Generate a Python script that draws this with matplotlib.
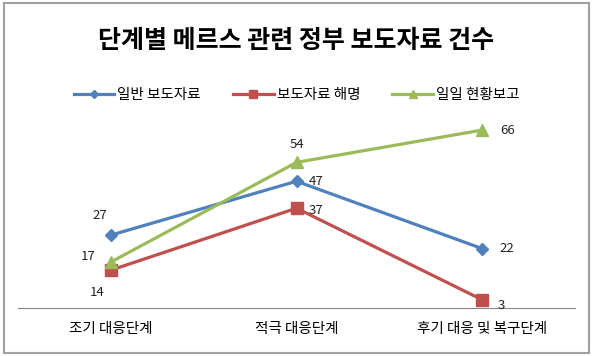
import matplotlib.pyplot as plt
from matplotlib.patches import Rectangle

plt.rcParams['font.family'] = ['Noto Sans CJK KR', 'DejaVu Sans']

# data
stages = ["조기 대응단계", "적극 대응단계", "후기 대응 및 복구단계"]
general = [27, 47, 22]
clarify = [14, 37, 3]
daily = [17, 54, 66]
series_names = ["일반 보도자료", "보도자료 해명", "일일 현황보고"]

colors = ["#4F81BD", "#C0504D", "#9BBB59"]
markers = ["D", "s", "^"]
msizes = [6, 8, 8]
# label offsets (points) per series / per point
offsets = [
    [(-8, 14), (14, 0), (18, 0)],
    [(-10, -16), (14, -2), (14, -4)],
    [(-16, 4), (0, 13), (18, 0)],
]

fig = plt.figure(figsize=(5.93, 3.56), dpi=100)
fig.patches.append(Rectangle((0.006, 0.008), 0.988, 0.984, transform=fig.transFigure,
                             fill=False, edgecolor="#A0A0A0", linewidth=1.5))
ax = fig.add_axes([0.03, 0.135, 0.94, 0.53])

x = range(len(stages))
for vals, name, c, m, ms, offs in zip([general, clarify, daily], series_names,
                                       colors, markers, msizes, offsets):
    ax.plot(x, vals, color=c, marker=m, markersize=ms, linewidth=2.3, label=name)
    for xi, v, (dx, dy) in zip(x, vals, offs):
        ax.annotate(str(v), (xi, v), xytext=(dx, dy), textcoords="offset points",
                    ha="center", va="center", fontsize=9.5, color="#222222")

ax.set_xlim(-0.5, 2.5)
ax.set_ylim(0, 70)
ax.set_xticks(list(x))
ax.set_xticklabels(stages, fontsize=10.5)
ax.tick_params(axis="x", length=0, pad=10)
ax.set_yticks([])
for s in ["top", "left", "right"]:
    ax.spines[s].set_visible(False)
ax.spines["bottom"].set_color("#888888")

fig.text(0.5, 0.885, "단계별 메르스 관련 정부 보도자료 건수", ha="center", va="center",
         fontsize=18, fontweight="bold")
fig.legend(loc="center", bbox_to_anchor=(0.5, 0.733), ncol=3, frameon=False,
           fontsize=10.5, handlelength=2.8, columnspacing=2.2, handletextpad=0.2,
           markerscale=0.7)

fig.savefig("out.png", dpi=100)
